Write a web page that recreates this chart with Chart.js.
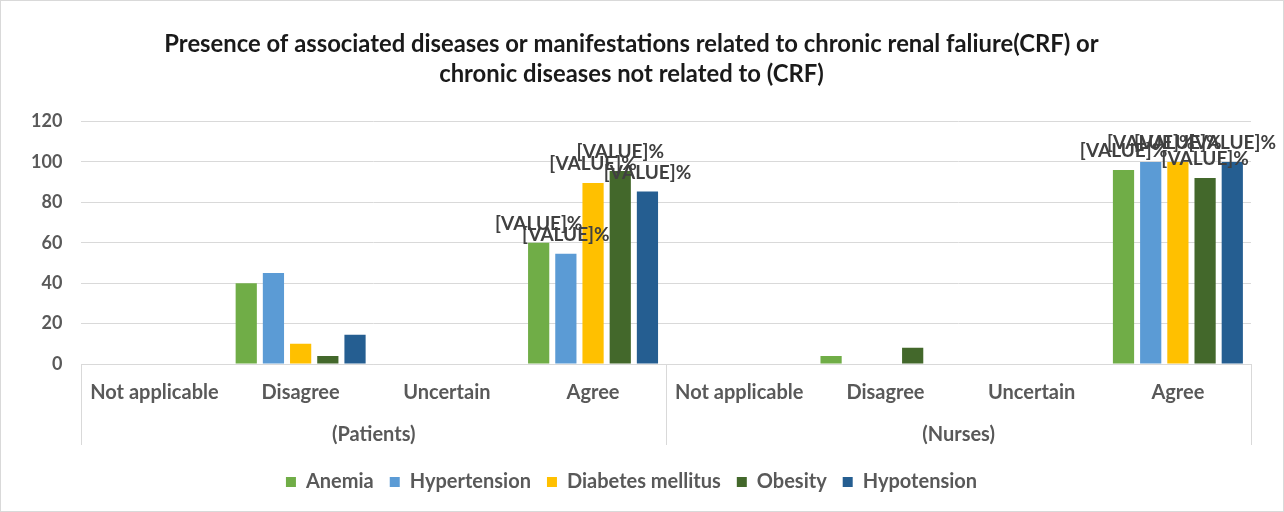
<!DOCTYPE html>
<html>
<head>
<meta charset="utf-8">
<script src="https://cdn.jsdelivr.net/npm/chart.js@4"></script>
<style>
  body { margin: 0; background: #fff; }
  #wrap { width: 1284px; height: 512px; border: 1px solid #d9d9d9; box-sizing: border-box; }
</style>
</head>
<body>
<div id="wrap"><canvas id="chart" width="1282" height="510"></canvas></div>
<script>
// categories
const answers = ['Not applicable', 'Disagree', 'Uncertain', 'Agree', 'Not applicable', 'Disagree', 'Uncertain', 'Agree'];
const groups = ['(Patients)', '(Nurses)'];
const yTicks = [0, 20, 40, 60, 80, 100, 120];

// series values (percent)
const anemia       = [0, 40, 0, 60,   0, 4, 0, 96];
const hypertension = [0, 45, 0, 54.5, 0, 0, 0, 100];
const diabetes     = [0, 10, 0, 89.5, 0, 0, 0, 100];
const obesity      = [0, 4,  0, 95.5, 0, 8, 0, 92];
const hypotension  = [0, 14.5, 0, 85.3, 0, 0, 0, 100];

// only the Agree bars carry a (broken) data label
const labelledIdx = [3, 7];
const labelText = '[VALUE]%';

const font = 'Lato, "Open Sans", sans-serif';
const grey = '#595959';

// draws the data labels above the Agree bars
const valueLabels = {
  id: 'valueLabels',
  afterDatasetsDraw(chart) {
    const ctx = chart.ctx;
    ctx.save();
    ctx.font = 'bold 19px ' + font;
    ctx.fillStyle = '#404040';
    ctx.textAlign = 'center';
    ctx.textBaseline = 'middle';
    chart.data.datasets.forEach((ds, di) => {
      const meta = chart.getDatasetMeta(di);
      labelledIdx.forEach(i => {
        const bar = meta.data[i];
        if (!bar || !ds.data[i]) return;
        ctx.fillText(labelText, bar.x, bar.y - 19);
      });
    });
    ctx.restore();
  }
};

// vertical separators between the Patients / Nurses groups below the axis
const groupLines = {
  id: 'groupLines',
  afterDraw(chart) {
    const x = chart.scales.x;
    const x2 = chart.scales.x2;
    const ctx = chart.ctx;
    const half = (x.getPixelForValue(1) - x.getPixelForValue(0)) / 2;
    const spots = [x.getPixelForValue(0) - half, x.getPixelForValue(4) - half, x.getPixelForValue(7) + half];
    ctx.save();
    ctx.strokeStyle = '#d9d9d9';
    ctx.lineWidth = 1;
    spots.forEach(p => {
      ctx.beginPath();
      ctx.moveTo(Math.round(p) + 0.5, chart.chartArea.bottom);
      ctx.lineTo(Math.round(p) + 0.5, x2.bottom - 11);
      ctx.stroke();
    });
    ctx.restore();
  }
};

const tickFont = { family: font, size: 20, weight: 'bold' };

const ctx = document.getElementById('chart').getContext('2d');
new Chart(ctx, {
  type: 'bar',
  data: {
    labels: answers,
    datasets: [
      { label: 'Anemia', data: anemia, backgroundColor: '#70AD47' },
      { label: 'Hypertension', data: hypertension, backgroundColor: '#5B9BD5' },
      { label: 'Diabetes mellitus', data: diabetes, backgroundColor: '#FFC000' },
      { label: 'Obesity', data: obesity, backgroundColor: '#43682B' },
      { label: 'Hypotension', data: hypotension, backgroundColor: '#255E91' }
    ]
  },
  options: {
    responsive: false,
    animation: false,
    categoryPercentage: 0.93,
    barPercentage: 0.78,
    layout: { padding: { left: 11, right: 32, top: 18, bottom: 9 } },
    plugins: {
      title: {
        display: true,
        text: ['Presence of associated diseases or manifestations related to chronic renal faliure(CRF) or',
               'chronic diseases not related to (CRF)'],
        font: { family: font, size: 23.8, weight: 'bold', lineHeight: 1.27 },
        color: '#1a1a1a',
        padding: { top: 10, bottom: 32 }
      },
      legend: {
        position: 'bottom',
        labels: {
          boxWidth: 10, boxHeight: 10, padding: 16,
          font: tickFont,
          color: grey
        }
      },
      tooltip: { enabled: false }
    },
    scales: {
      x: {
        grid: { display: false },
        border: { color: '#d9d9d9' },
        ticks: { font: tickFont, color: grey, padding: 9, maxRotation: 0, autoSkip: false }
      },
      x2: {
        type: 'category',
        labels: groups,
        position: 'bottom',
        offset: true,
        grid: { display: false, drawTicks: false },
        border: { display: false },
        ticks: { font: tickFont, color: grey, padding: 9 }
      },
      y: {
        min: 0, max: 120,
        afterBuildTicks: s => { s.ticks = yTicks.map(v => ({ value: v })); },
        grid: { color: '#d9d9d9', drawTicks: false },
        border: { display: false },
        ticks: { font: { family: font, size: 18, weight: 'bold' }, color: grey, padding: 19 }
      }
    }
  },
  plugins: [valueLabels, groupLines]
});
</script>
</body>
</html>
